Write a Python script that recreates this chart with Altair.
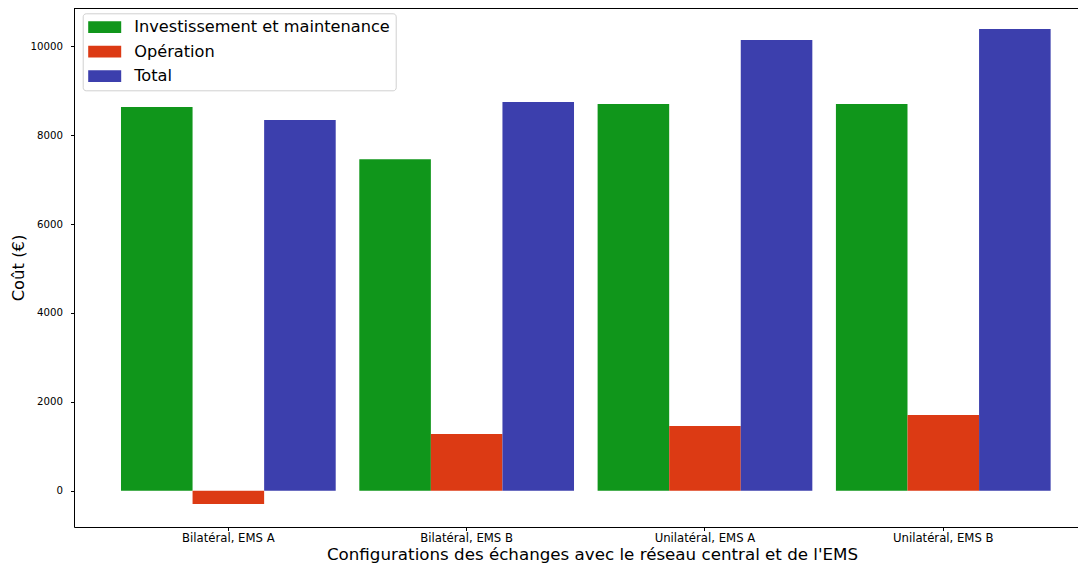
import altair as alt
import pandas as pd

categories = ["Bilatéral, EMS A", "Bilatéral, EMS B", "Unilatéral, EMS A", "Unilatéral, EMS B"]
series = ["Investissement et maintenance", "Opération", "Total"]
invest = [8634, 7460, 8701, 8701]
operation = [-300, 1275, 1456, 1703]
total = [8341, 8746, 10141, 10389]
colors = ["#10961B", "#DC3A14", "#3C3FAD"]
y_ticks = [0, 2000, 4000, 6000, 8000, 10000]

rows = []
for i, c in enumerate(categories):
    for s, vals in zip(series, [invest, operation, total]):
        rows.append({"config": c, "serie": s, "cout": vals[i]})
df = pd.DataFrame(rows)

W, H = 1004, 519
FONT = "DejaVu Sans"

bars = alt.Chart(df).mark_bar(strokeWidth=0).encode(
    x=alt.X("config:N", sort=categories,
            scale=alt.Scale(paddingInner=0.099, paddingOuter=0.156, align=0.632),
            axis=alt.Axis(title="Configurations des échanges avec le réseau central et de l'EMS",
                          labelAngle=0, labelFontSize=11.7, labelPadding=1.5,
                          titleFontSize=16.7, titlePadding=3, titleX=518, tickSize=3.5)),
    xOffset=alt.XOffset("serie:N", sort=series,
                        scale=alt.Scale(paddingInner=0, paddingOuter=0)),
    y=alt.Y("cout:Q", scale=alt.Scale(domain=[-817, 10862], nice=False),
            axis=alt.Axis(title="Coût (€)", values=y_ticks, format="d", grid=False,
                          labelFontSize=10.2, labelPadding=8, tickSize=3.5,
                          titleFontSize=16.4, titlePadding=4)),
    color=alt.Color("serie:N", sort=series,
                    scale=alt.Scale(domain=series, range=colors),
                    legend=alt.Legend(title=None, orient="none", legendX=8.7, legendY=5.3,
                                      symbolType="M-1,-0.709L3,-0.709L3,0.709L-1,0.709Z",
                                      symbolSize=272.25, symbolStrokeWidth=0, symbolOpacity=1,
                                      labelFontSize=16.2, labelOffset=29.2, labelColor="#000000",
                                      labelLimit=0, rowPadding=7.5, padding=5.25,
                                      strokeColor="#d0d0d0", cornerRadius=3,
                                      fillColor="rgba(255,255,255,0.8)")),
)

top = alt.Chart(df).mark_rule(color="#000000", strokeWidth=1).encode(
    x=alt.value(0), x2=alt.value(W), y=alt.value(0)
)

chart = alt.layer(bars, top).properties(
    width=W, height=H,
    autosize=alt.AutoSizeParams(type="none"),
    padding={"left": 66, "top": 0, "right": 0, "bottom": 41},
).configure_view(stroke=None).configure_axis(
    labelFont=FONT, titleFont=FONT, labelColor="#000000", titleColor="#000000",
    domainColor="#000000", tickColor="#000000", titleFontWeight="normal",
    domainWidth=1, tickWidth=1,
).configure_legend(labelFont=FONT)

chart.save("out.html", embed_options={"renderer": "svg", "actions": False})
